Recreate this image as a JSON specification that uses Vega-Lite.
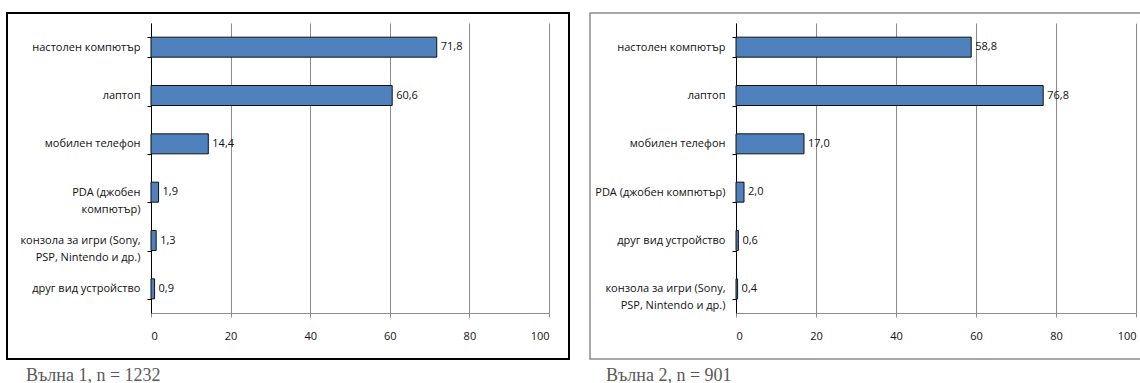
{
  "$schema": "https://vega.github.io/schema/vega-lite/v6.json",
  "background": "white",
  "padding": {"left": 6, "top": 6, "right": 0, "bottom": 0},
  "autosize": {"type": "pad"},
  "config": {
    "locale": {"number": {"decimal": ",", "thousands": " ", "grouping": [3], "currency": ["", ""]}},
    "font": "Open Sans",
    "concat": {"spacing": 21},
    "axis": {"labelFont": "Open Sans", "labelFontSize": 11, "labelColor": "#111111", "title": null}
  },
  "datasets": {
    "wave1": [
      {"device": "настолен компютър", "pct": 71.8},
      {"device": "лаптоп", "pct": 60.6},
      {"device": "мобилен телефон", "pct": 14.4},
      {"device": "PDA (джобен компютър)", "pct": 1.9},
      {"device": "конзола за игри (Sony, PSP, Nintendo и др.)", "pct": 1.3},
      {"device": "друг вид устройство", "pct": 0.9}
    ],
    "wave2": [
      {"device": "настолен компютър", "pct": 58.8},
      {"device": "лаптоп", "pct": 76.8},
      {"device": "мобилен телефон", "pct": 17.0},
      {"device": "PDA (джобен компютър)", "pct": 2.0},
      {"device": "друг вид устройство", "pct": 0.6},
      {"device": "конзола за игри (Sony, PSP, Nintendo и др.)", "pct": 0.4}
    ]
  },
  "bounds": "flush",
  "hconcat": [
    {
      "width": 562,
      "height": 346,
      "data": {"name": "wave1"},
      "view": {"stroke": "#000000", "strokeWidth": 2},
      "title": {"text": "Вълна 1, n = 1232", "orient": "bottom", "anchor": "start", "dx": 19, "offset": 8, "font": "Liberation Serif", "fontSize": 18, "fontWeight": "normal", "color": "#595959"},
      "encoding": {
        "y": {
          "field": "device", "type": "nominal", "sort": null,
          "scale": {"range": [10, 300], "paddingInner": 0.586, "paddingOuter": 0.293},
          "axis": {
            "offset": -144, "domainColor": "#000000", "tickColor": "#000000", "tickSize": 4,
            "tickBand": "extent", "labelPadding": 7, "labelLimit": 0, "labelLineHeight": 17,
            "labelExpr": "datum.value === 'PDA (джобен компютър)' ? ['PDA (джобен', 'компютър)'] : datum.value === 'конзола за игри (Sony, PSP, Nintendo и др.)' ? ['конзола за игри (Sony,', 'PSP, Nintendo и др.)'] : datum.value"
          }
        },
        "x": {
          "field": "pct", "type": "quantitative",
          "scale": {"domain": [0, 100], "range": [144, 542]}
        }
      },
      "layer": [
        {
          "mark": {"type": "bar", "fill": "#4F81BD", "stroke": "#111111", "strokeWidth": 1},
          "encoding": {
            "x": {
              "field": "pct", "type": "quantitative",
              "axis": {
                "orient": "top", "values": [0, 20, 40, 60, 80, 100], "grid": true,
                "gridColor": "#8c8c8c", "gridWidth": 1, "domain": false, "ticks": false, "labels": false
              }
            }
          }
        },
        {
          "mark": {"type": "text", "align": "left", "dx": 4, "fontSize": 11, "color": "#111111"},
          "encoding": {
            "text": {"field": "pct", "type": "quantitative", "format": ".1f"},
            "x": {
              "field": "pct", "type": "quantitative",
              "axis": {
                "orient": "bottom", "values": [0, 20, 40, 60, 80, 100], "offset": -46, "grid": false,
                "domainColor": "#8c8c8c", "tickColor": "#8c8c8c", "tickSize": 4, "labelPadding": 13
              }
            }
          }
        }
      ]
    },
    {
      "width": 562,
      "height": 346,
      "data": {"name": "wave2"},
      "view": {"stroke": "#8c8c8c", "strokeWidth": 1.5},
      "title": {"text": "Вълна 2, n = 901", "orient": "bottom", "anchor": "start", "dx": 16, "offset": 8, "font": "Liberation Serif", "fontSize": 18, "fontWeight": "normal", "color": "#595959"},
      "encoding": {
        "y": {
          "field": "device", "type": "nominal", "sort": null,
          "scale": {"range": [10, 300], "paddingInner": 0.586, "paddingOuter": 0.293},
          "axis": {
            "offset": -146, "domainColor": "#000000", "tickColor": "#000000", "tickSize": 4,
            "tickBand": "extent", "labelPadding": 7, "labelLimit": 0, "labelLineHeight": 17,
            "labelExpr": "datum.value === 'конзола за игри (Sony, PSP, Nintendo и др.)' ? ['конзола за игри (Sony,', 'PSP, Nintendo и др.)'] : datum.value"
          }
        },
        "x": {
          "field": "pct", "type": "quantitative",
          "scale": {"domain": [0, 100], "range": [146, 546]}
        }
      },
      "layer": [
        {
          "mark": {"type": "bar", "fill": "#4F81BD", "stroke": "#111111", "strokeWidth": 1},
          "encoding": {
            "x": {
              "field": "pct", "type": "quantitative",
              "axis": {
                "orient": "top", "values": [0, 20, 40, 60, 80, 100], "grid": true,
                "gridColor": "#8c8c8c", "gridWidth": 1, "domain": false, "ticks": false, "labels": false
              }
            }
          }
        },
        {
          "mark": {"type": "text", "align": "left", "dx": 4, "fontSize": 11, "color": "#111111"},
          "encoding": {
            "text": {"field": "pct", "type": "quantitative", "format": ".1f"},
            "x": {
              "field": "pct", "type": "quantitative",
              "axis": {
                "orient": "bottom", "values": [0, 20, 40, 60, 80, 100], "offset": -46, "grid": false,
                "domainColor": "#8c8c8c", "tickColor": "#8c8c8c", "tickSize": 4, "labelPadding": 13
              }
            }
          }
        }
      ]
    }
  ]
}
